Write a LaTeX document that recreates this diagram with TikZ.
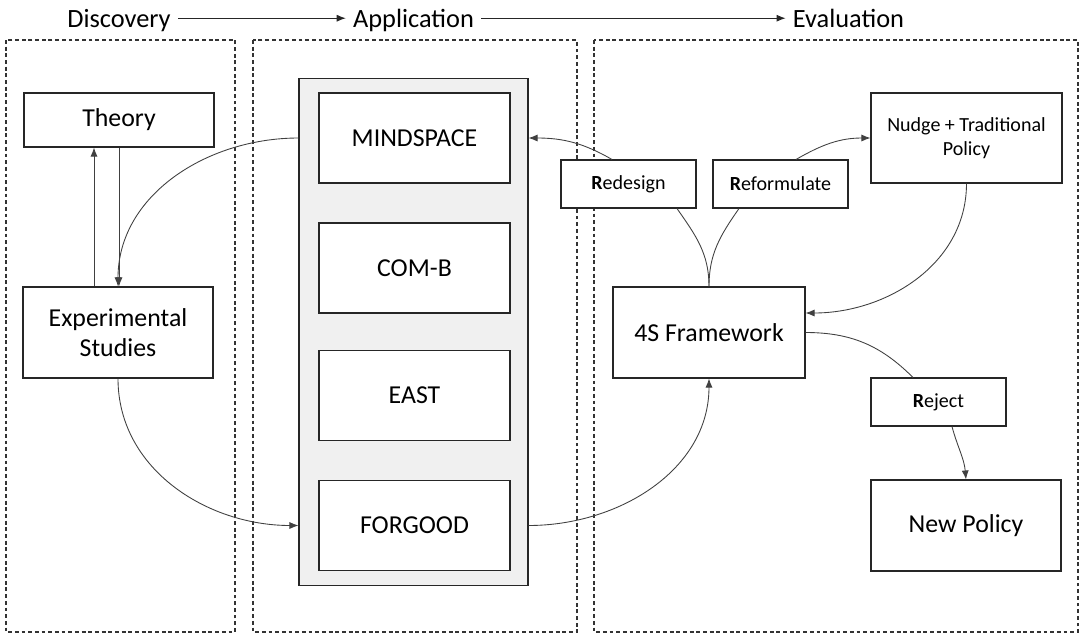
\documentclass[tikz,border=0pt]{standalone}
\usepackage{fontspec}
\setmainfont{Carlito}
\usetikzlibrary{arrows.meta}

\tikzset{
  block/.style = {draw=black!85, line width=0.6pt, fill=white, align=center,
                  inner sep=2pt, font=\fontsize{14.7}{17}\selectfont},
  tag/.style   = {block, minimum width=2.7cm, minimum height=0.96cm,
                  font=\fontsize{11.4}{13.7}\selectfont},
  phase/.style = {inner sep=4pt, text height=12pt, text depth=2pt,
                  font=\fontsize{15}{17}\selectfont},
  stagebox/.style = {draw=black!80, dash pattern=on 2.2pt off 1.6pt, line width=0.6pt},
  link/.style  = {draw=black!75, line width=0.5pt},
  >={Latex[length=1.8mm,width=1.4mm]}
}

\begin{document}
\begin{tikzpicture}[x=0.02cm, y=-0.02cm]
    \useasboundingbox (0,0) rectangle (1080,633);

    % Phases
    \node[phase, anchor=base] (disc) at (119,27) {Discovery};
    \node[phase, anchor=base] (app)  at (413.5,27) {Application};
    \node[phase, anchor=base] (eval) at (848.5,27) {Evaluation};
    \draw[link, black!85, ->] (disc) -- (app);
    \draw[link, black!85, ->] (app) -- (eval);

    % Stages
    \draw[stagebox] (6,40) rectangle (235,632);
    \draw[stagebox] (253,40) rectangle (577,632);
    \draw[stagebox] (594,40) rectangle (1078,632);

    % Discovery
    \node[block, minimum width=3.8cm, minimum height=1.08cm] (theory) at (119,120) {Theory};
    \node[block, minimum width=3.8cm, minimum height=1.82cm] (exp) at (118,332.5) {Experimental\\Studies};

    % Application
    \node[draw=black!85, fill=black!6, line width=0.6pt,
          minimum width=4.58cm, minimum height=10.16cm] (frame) at (413.5,332) {};
    \node[block, minimum width=3.82cm, minimum height=1.8cm] (mind)    at (414.5,138)   {MINDSPACE};
    \node[block, minimum width=3.82cm, minimum height=1.8cm] (comb)    at (414.5,268)   {COM-B};
    \node[block, minimum width=3.82cm, minimum height=1.8cm] (east)    at (414.5,395.5) {EAST};
    \node[block, minimum width=3.82cm, minimum height=1.8cm] (forgood) at (414.5,525.5) {FORGOOD};

    % Evaluation
    \node[block, minimum width=3.84cm, minimum height=1.82cm] (fw) at (709,332.5) {4S Framework};
    \node[tag] (redesign) at (628.5,184) {\textbf{R}edesign};
    \node[tag] (reform)   at (780.5,184) {\textbf{R}eformulate};
    \node[tag, minimum width=3.82cm, minimum height=1.8cm] (nudge) at (966.5,138) {Nudge + Traditional\\Policy};
    \node[tag] (reject)   at (938.5,402) {\textbf{R}eject};
    \node[block, minimum width=3.8cm, minimum height=1.82cm] (newpol) at (966,525.5) {New Policy};

    % Edges
    % discovery loop
    \draw[link, ->] ([xshift=-0.48cm]exp.north) -- ([xshift=-0.48cm]exp.north |- theory.south);
    \draw[link, ->] (theory.south) -- (theory.south |- exp.north);
    \draw[link, ->] (frame.west |- mind) to[out=180, in=90] (exp.north);
    \draw[link, ->] (exp.south) to[out=-90, in=180] (frame.west |- forgood);
    \draw[link, ->] (frame.east |- forgood) to[out=0, in=-90] (fw.south);

    % 4S | redesign, reformulate
    \draw[link] (fw.north) to[out=90, in=-55] ([xshift=0.97cm]redesign.south);
    \draw[link] (fw.north) to[out=90, in=-125] ([xshift=-0.83cm]reform.south);
    \draw[link, ->] ([xshift=-0.33cm]redesign.north) to[out=150, in=0] (frame.east |- mind);
    \draw[link, ->] ([xshift=0.31cm]reform.north) to[out=30, in=180] (nudge.west);
    \draw[link, ->] (nudge.south) to[out=-90, in=0] ([yshift=0.39cm]fw.east);

    % 4S | reject
    \draw[link] (fw.east) to[out=0, in=135] ([xshift=-0.51cm]reject.north);
    \draw[link, ->] ([xshift=0.27cm]reject.south) to[out=-75, in=95] (newpol.north);

\end{tikzpicture}
\end{document}
